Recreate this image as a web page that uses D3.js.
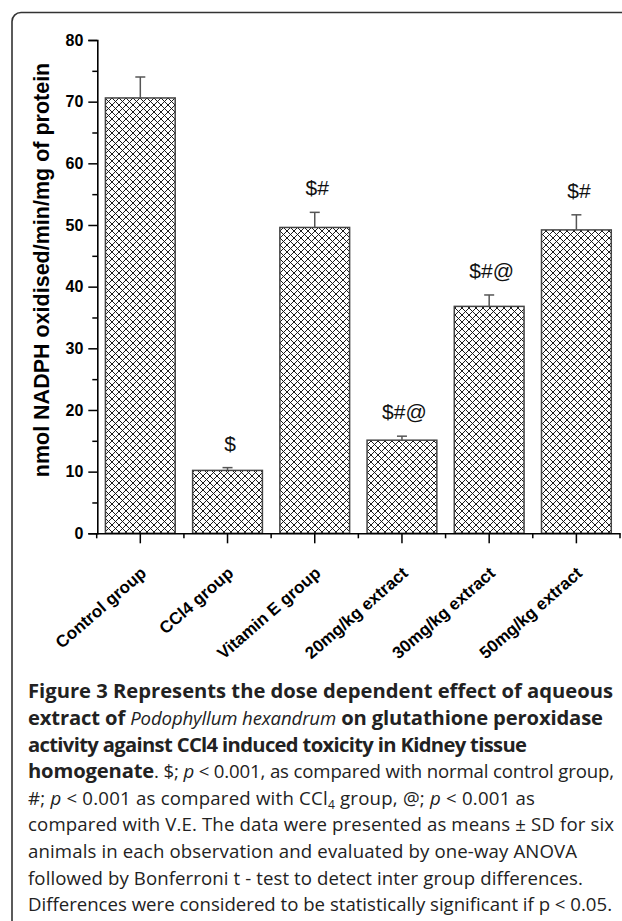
<!DOCTYPE html>
<html><head><meta charset="utf-8">
<script src="https://cdn.jsdelivr.net/npm/d3@7"></script>
<style>body{margin:0;background:#fff}svg{display:block}</style>
</head><body>
<script>
const categories = ["Control group","CCl4 group","Vitamin E group","20mg/kg extract","30mg/kg extract","50mg/kg extract"];
const means = [70.6, 10.2, 49.6, 15.1, 36.8, 49.2];
const sds = [3.4, 0.45, 2.45, 0.65, 1.85, 2.45];
const sigLabels = ["", "$", "$#", "$#@", "$#@", "$#"];
const yTicks = [0,10,20,30,40,50,60,70,80];
const yMinorTicks = [5,15,25,35,45,55,65,75];
const yTitle = "nmol NADPH oxidised/min/mg of protein";

const W = 622, H = 921;
const svg = d3.select("body").append("svg").attr("width", W).attr("height", H);
const defs = svg.append("defs");
const pat = defs.append("pattern").attr("id","xhatch").attr("patternUnits","userSpaceOnUse")
  .attr("width",7).attr("height",7);
pat.append("rect").attr("width",7).attr("height",7).attr("fill","#fff");
pat.append("path").attr("d","M0,0L7,7M0,7L7,0M-1,6L1,8M6,-1L8,1M-1,1L1,-1M6,8L8,6")
  .attr("stroke","#111").attr("stroke-width",0.95);

// frame
svg.append("rect").attr("x",12).attr("y",12.5).attr("width",800).attr("height",1000).attr("rx",9)
  .attr("fill","none").attr("stroke","#333").attr("stroke-width",1.6);

const x = d3.scaleBand().domain(categories).range([96.7, 620]).paddingInner(0.2).paddingOuter(0.1);
const y = d3.scaleLinear().domain([0,80]).range([533.3, 40]);

const g = svg.append("g");

// bars
g.selectAll("rect.bar").data(categories).join("rect").attr("class","bar")
  .attr("x", d => x(d)).attr("width", x.bandwidth())
  .attr("y", (d,i) => y(means[i])).attr("height", (d,i) => y(0) - y(means[i]))
  .attr("fill","url(#xhatch)").attr("stroke","#444").attr("stroke-width",1.5);

// error bars
const eb = g.selectAll("g.eb").data(categories).join("g").attr("class","eb");
eb.append("line").attr("x1", d => x(d)+x.bandwidth()/2).attr("x2", d => x(d)+x.bandwidth()/2)
  .attr("y1",(d,i)=>y(means[i])).attr("y2",(d,i)=>y(means[i]+sds[i]))
  .attr("stroke","#555").attr("stroke-width",1.5);
eb.append("line").attr("x1", d => x(d)+x.bandwidth()/2-5).attr("x2", d => x(d)+x.bandwidth()/2+5)
  .attr("y1",(d,i)=>y(means[i]+sds[i])).attr("y2",(d,i)=>y(means[i]+sds[i]))
  .attr("stroke","#555").attr("stroke-width",1.5);

// significance labels
g.selectAll("text.sig").data(categories).join("text").attr("class","sig")
  .attr("x", d => x(d)+x.bandwidth()/2+2.5).attr("y",(d,i)=>y(means[i]+sds[i]) - 17)
  .attr("text-anchor","middle").attr("font-family","Liberation Sans, Arial, sans-serif")
  .attr("font-size",21).attr("fill","#111").text((d,i)=>sigLabels[i]);

// y axis
const yAxis = g.append("g").attr("transform","translate(97.3,0)")
  .call(d3.axisLeft(y).tickValues(yTicks).tickSize(9).tickPadding(5).tickFormat(d3.format("d")));
g.append("g").attr("transform","translate(97.3,0)")
  .call(d3.axisLeft(y).tickValues(yMinorTicks).tickSize(5).tickFormat(""))
  .call(s=>s.select(".domain").remove());
yAxis.selectAll("text").attr("font-family","Liberation Sans, Arial, sans-serif").attr("font-weight","bold")
  .attr("font-size",16).attr("fill","#000");

// x axis (major ticks at band centers, minor at band edges)
const xAxis = g.append("g").attr("transform",`translate(0,${y(0)})`)
  .call(d3.axisBottom(x).tickSize(10).tickSizeOuter(0).tickFormat(""));
const edges = categories.map(d => x(d) - x.step()*x.paddingInner()/2).concat([620]);
xAxis.selectAll("line.minor").data(edges).join("line").attr("class","minor")
  .attr("x1",d=>d).attr("x2",d=>d).attr("y1",0).attr("y2",5).attr("stroke","#000").attr("stroke-width",1.5);
svg.selectAll(".domain").attr("stroke","#000").attr("stroke-width",1.6);
svg.selectAll(".tick line").attr("stroke","#000").attr("stroke-width",1.5);

// x labels
g.selectAll("text.xl").data(categories).join("text").attr("class","xl")
  .attr("transform", d => `translate(${x(d)+x.bandwidth()/2+7},${y(0)+41.5}) rotate(-41)`)
  .attr("text-anchor","end").attr("font-family","Liberation Sans, Arial, sans-serif")
  .attr("font-weight","bold").attr("font-size",17).attr("fill","#000").text(d=>d);

// y title
svg.append("text").attr("transform","translate(48.5,270) rotate(-90)")
  .attr("text-anchor","middle").attr("font-family","Liberation Sans, Arial, sans-serif")
  .attr("font-weight","bold").attr("font-size",21.5).attr("fill","#000").text(yTitle);

// caption
const capLines = [
  [["Figure 3 Represents the dose dependent effect of aqueous","b"]],
  [["extract of ","b"],["Podophyllum hexandrum","i"],[" on glutathione peroxidase","b"]],
  [["activity against CCl4 induced toxicity in Kidney tissue","b"]],
  [["homogenate","b"],[". $; ",""],["p","i"],[" < 0.001, as compared with normal control group,",""]],
  [["#; ",""],["p","i"],[" < 0.001 as compared with CCl",""],["4","sub"],[" group, @; ",""],["p","i"],[" < 0.001 as",""]],
  [["compared with V.E. The data were presented as means \u00b1 SD for six",""]],
  [["animals in each observation and evaluated by one-way ANOVA",""]],
  [["followed by Bonferroni t - test to detect inter group differences.",""]],
  [["Differences were considered to be statistically significant if p < 0.05.",""]]
];
const capEnds = [613, 603, 527, 614, 535, 614, 577, 583, 612];
const capX = 28;
const cap = svg.append("g").attr("font-family","Open Sans, sans-serif").attr("fill","#222");
const texts = capLines.map((segs,i) => {
  const t = cap.append("text").attr("x",capX).attr("y",698.3 + i*26.6).attr("font-size",18.8);
  let afterSub = false;
  segs.forEach(([s,st]) => {
    const ts = t.append("tspan").text(s);
    if (st==="b") ts.attr("font-weight","bold");
    if (st==="i") ts.attr("font-style","italic");
    if (st==="sub") ts.attr("font-size",12).attr("dy",4);
    else if (afterSub) ts.attr("dy",-4);
    afterSub = (st==="sub");
  });
  return t;
});
// fit regular font size from the last line, bold size from first line
const regSize = 18.8 * (capEnds[8]-capX) / texts[8].node().getComputedTextLength();
const boldSize = 18.8 * (capEnds[0]-capX) / texts[0].node().getComputedTextLength();
texts.forEach(t => {
  t.attr("font-size", regSize);
  t.selectAll("tspan").each(function(){
    const s = d3.select(this);
    if (s.attr("font-weight")==="bold") s.attr("font-size", boldSize);
  });
});
// adjust letter spacing so each line ends where the reference's does
texts.forEach((t,i) => {
  const w = t.node().getComputedTextLength();
  const n = t.text().length;
  const ls = (capEnds[i]-capX - w) / (n - 1);
  t.attr("letter-spacing", ls.toFixed(3));
});
</script>
</body></html>
